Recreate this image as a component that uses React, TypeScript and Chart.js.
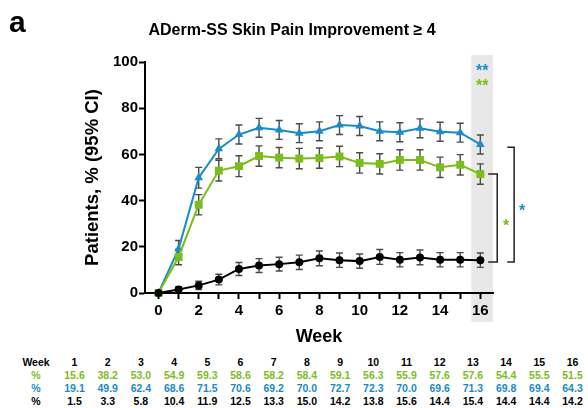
import React, { useEffect, useRef } from "react";
import { Chart, registerables } from "chart.js";

Chart.register(...registerables);

// ---------- data ----------
const weeks = [1, 2, 3, 4, 5, 6, 7, 8, 9, 10, 11, 12, 13, 14, 15, 16];
const greenValues = [15.6, 38.2, 53.0, 54.9, 59.3, 58.6, 58.2, 58.4, 59.1, 56.3, 55.9, 57.6, 57.6, 54.4, 55.5, 51.5];
const blueValues = [19.1, 49.9, 62.4, 68.6, 71.5, 70.6, 69.2, 70.0, 72.7, 72.3, 70.0, 69.6, 71.3, 69.8, 69.4, 64.3];
const blackValues = [1.5, 3.3, 5.8, 10.4, 11.9, 12.5, 13.3, 15.0, 14.2, 13.8, 15.6, 14.4, 15.4, 14.4, 14.4, 14.2];
// estimated 95% CI half-widths
const greenCI = [3.4, 4.4, 4.5, 4.5, 4.4, 4.4, 4.4, 4.4, 4.4, 4.4, 4.4, 4.4, 4.4, 4.4, 4.4, 4.4];
const blueCI = [3.6, 4.5, 4.3, 4.1, 4.1, 4.1, 4.1, 4.1, 4.1, 4.1, 4.1, 4.1, 4.1, 4.1, 4.1, 4.1];
const blackCI = [1.2, 1.8, 2.3, 2.8, 3.0, 3.0, 3.1, 3.2, 3.1, 3.1, 3.2, 3.1, 3.2, 3.1, 3.1, 3.1];
const xTickValues = [0, 1, 2, 3, 4, 5, 6, 7, 8, 9, 10, 11, 12, 13, 14, 15, 16];

const TITLE = "ADerm-SS Skin Pain Improvement \u2265 4";
const Y_TITLE = "Patients, % (95% CI)";
const X_TITLE = "Week";

const BLUE = "#1a8ac8";
const GREEN = "#7cbd1e";
const BLACK = "#000000";
const FONT = '"Liberation Sans", Arial, Helvetica, sans-serif';

const withZero = (vals: number[]) => [{ x: 0, y: 0 }, ...vals.map((v, i) => ({ x: weeks[i], y: v }))];

const series = [
  { color: BLACK, values: blackValues, ci: blackCI, style: "circle", radius: 4 },
  { color: GREEN, values: greenValues, ci: greenCI, style: "rect", radius: 5.6 },
  { color: BLUE, values: blueValues, ci: blueCI, style: "triangle", radius: 5 },
];

const overlayPlugin = {
  id: "overlay",
  beforeDraw(chart: any) {
    const { ctx, scales } = chart;
    const x = scales.x, y = scales.y;
    ctx.save();
    ctx.fillStyle = "#e8e8e8";
    const l = x.getPixelForValue(15.55), r = x.getPixelForValue(16.63);
    const t = y.getPixelForValue(103), b = y.getPixelForValue(-12.5);
    ctx.fillRect(l, t, r - l, b - t);
    ctx.restore();
  },
  beforeDatasetsDraw(chart: any) {
    const { ctx, scales } = chart;
    const x = scales.x, y = scales.y;
    ctx.save();
    ctx.strokeStyle = "#4a4a4a";
    ctx.lineWidth = 1.4;
    series.forEach((s) => {
      s.values.forEach((v, i) => {
        const px = x.getPixelForValue(weeks[i]);
        const top = y.getPixelForValue(v + s.ci[i]);
        const bot = y.getPixelForValue(Math.max(0, v - s.ci[i]));
        ctx.beginPath();
        ctx.moveTo(px, top); ctx.lineTo(px, bot);
        ctx.moveTo(px - 3.5, top); ctx.lineTo(px + 3.5, top);
        ctx.moveTo(px - 3.5, bot); ctx.lineTo(px + 3.5, bot);
        ctx.stroke();
      });
    });
    ctx.restore();
  },
  afterDraw(chart: any) {
    const { ctx, scales } = chart;
    const x = scales.x, y = scales.y;
    ctx.save();
    // panel letter + title
    ctx.fillStyle = "#000";
    ctx.textAlign = "left";
    ctx.textBaseline = "alphabetic";
    ctx.font = `bold 30px ${FONT}`;
    ctx.fillText("a", 9, 32);
    ctx.textAlign = "center";
    ctx.font = `bold 16px ${FONT}`;
    ctx.fillText(TITLE, 292, 35);

    // significance stars in the week-16 band
    const starX = x.getPixelForValue(16.1);
    ctx.font = `bold 16px ${FONT}`;
    ctx.fillStyle = BLUE;
    ctx.fillText("**", starX, 76);
    ctx.fillStyle = GREEN;
    ctx.fillText("**", starX, 91);

    // brackets
    ctx.strokeStyle = "#222";
    ctx.lineWidth = 1.5;
    const bracket = (xIn: number, xOut: number, topVal: number, botVal: number) => {
      const a = x.getPixelForValue(xIn), b = x.getPixelForValue(xOut);
      const t = y.getPixelForValue(topVal), bt = y.getPixelForValue(botVal);
      ctx.beginPath();
      ctx.moveTo(a, t); ctx.lineTo(b, t); ctx.lineTo(b, bt); ctx.lineTo(a, bt);
      ctx.stroke();
      return { b, t, bt };
    };
    const blackLast = blackValues[blackValues.length - 1];
    const g = bracket(16.39, 16.84, greenValues[greenValues.length - 1], blackLast - 0.8);
    const bl = bracket(17.34, 17.68, blueValues[blueValues.length - 1] - 1.2, blackLast - 0.8);
    ctx.fillStyle = GREEN;
    ctx.fillText("*", g.b + 9, (g.t + g.bt) / 2 + 13);
    ctx.fillStyle = BLUE;
    ctx.fillText("*", bl.b + 8, (bl.t + bl.bt) / 2 + 11);
    ctx.restore();
  },
};

function ChartView() {
  const ref = useRef<HTMLCanvasElement | null>(null);
  useEffect(() => {
    if (!ref.current) return;
    const chart = new Chart(ref.current, {
      type: "line",
      data: {
        datasets: series.map((s) => ({
          data: withZero(s.values),
          borderColor: s.color,
          backgroundColor: s.color,
          borderWidth: 2,
          pointStyle: s.style as any,
          pointRadius: s.radius,
          pointBorderWidth: 0,
          pointBackgroundColor: s.color,
          tension: 0,
          clip: false as any,
        })),
      },
      options: {
        animation: false,
        responsive: false,
        maintainAspectRatio: false,
        layout: { padding: { left: 0, right: 95, top: 62, bottom: 0 } },
        plugins: { legend: { display: false }, tooltip: { enabled: false }, title: { display: false } },
        scales: {
          x: {
            type: "linear",
            min: -0.67,
            max: 16.63,
            afterBuildTicks: (scale: any) => {
              scale.ticks = xTickValues.map((v) => ({ value: v }));
            },
            afterFit: (scale: any) => {
              scale.height = 57;
            },
            ticks: {
              autoSkip: false,
              maxRotation: 0,
              color: "#000",
              padding: 3,
              font: { family: FONT, size: 15, weight: "bold" },
              callback: (v: any) => (Number(v) % 2 === 0 ? String(v) : ""),
            },
            grid: { display: true, drawOnChartArea: false, tickLength: 6, tickWidth: 2, tickColor: "#000" },
            border: { display: true, color: "#000", width: 2 },
            title: {
              display: true,
              text: X_TITLE,
              color: "#000",
              font: { family: FONT, size: 18, weight: "bold" },
              padding: { top: 0, bottom: 2 },
            },
          },
          y: {
            type: "linear",
            min: 0,
            max: 100,
            afterFit: (scale: any) => {
              scale.width = 145;
            },
            ticks: {
              stepSize: 20,
              color: "#000",
              padding: 1,
              font: { family: FONT, size: 15, weight: "bold" },
            },
            grid: { display: true, drawOnChartArea: false, tickLength: 6, tickWidth: 2, tickColor: "#000" },
            border: { display: true, color: "#000", width: 2 },
            title: {
              display: true,
              text: Y_TITLE,
              color: "#000",
              font: { family: FONT, size: 18.5, weight: "bold" },
              padding: { top: 82, bottom: 0 },
            },
          },
        },
      },
      plugins: [overlayPlugin],
    });
    return () => chart.destroy();
  }, []);
  return <canvas ref={ref} width={588} height={350} style={{ position: "absolute", left: 0, top: 0 }} />;
}

const tableRows = [
  { label: "Week", color: "#000", cells: weeks.map((w) => String(w)) },
  { label: "%", color: GREEN, cells: greenValues.map((v) => v.toFixed(1)) },
  { label: "%", color: BLUE, cells: blueValues.map((v) => v.toFixed(1)) },
  { label: "%", color: "#000", cells: blackValues.map((v) => v.toFixed(1)) },
];
const rowY = [362, 374.8, 387.8, 400.8];
const colX = (i: number) => 74.5 + i * 33.2;

export default function App() {
  return (
    <div style={{ position: "absolute", left: 0, top: 0, width: 588, height: 408, background: "#fff", overflow: "hidden" }}>
      <ChartView />
      {tableRows.map((row, r) => (
        <React.Fragment key={r}>
          <div
            style={{
              position: "absolute", left: 16, width: 40, top: rowY[r] - 7, height: 14, lineHeight: "14px",
              textAlign: "center", fontFamily: FONT, fontWeight: "bold", fontSize: 10.5, color: row.color,
            }}
          >
            {row.label}
          </div>
          {row.cells.map((c, i) => (
            <div
              key={i}
              style={{
                position: "absolute", left: colX(i) - 16, width: 32, top: rowY[r] - 7, height: 14, lineHeight: "14px",
                textAlign: "center", fontFamily: FONT, fontWeight: "bold", fontSize: 10.5, color: row.color,
              }}
            >
              {c}
            </div>
          ))}
        </React.Fragment>
      ))}
    </div>
  );
}
